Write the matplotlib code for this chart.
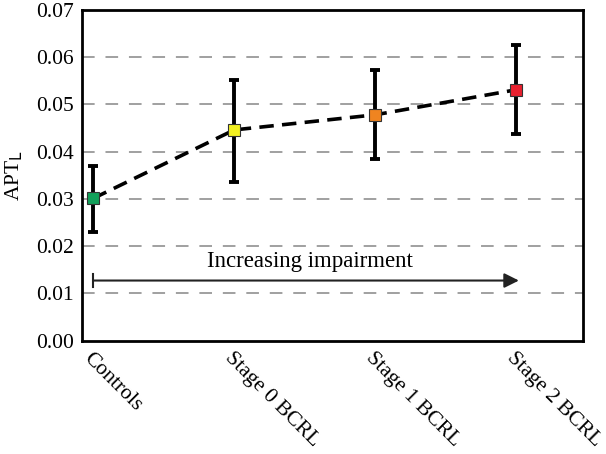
import matplotlib
matplotlib.use("Agg")
from matplotlib import pyplot as plt

# values
groups = ["Controls", "Stage 0 BCRL", "Stage 1 BCRL", "Stage 2 BCRL"]
apt_mean = [0.0301, 0.0446, 0.0478, 0.0531]
apt_upper = [0.0369, 0.0551, 0.0572, 0.0625]
apt_lower = [0.0230, 0.0336, 0.0384, 0.0437]
colors = ["#12a05a", "#f2f020", "#ef8420", "#e8202e"]

plt.rcParams["font.family"] = ["Liberation Serif", "DejaVu Serif"]

fig = plt.figure(figsize=(6.06, 4.54), dpi=100)
ax = fig.add_axes([82 / 606, 1 - 340.5 / 454, 501 / 606, 330.5 / 454])

x = list(range(len(groups)))
err_lo = [m - l for m, l in zip(apt_mean, apt_lower)]
err_hi = [u - m for m, u in zip(apt_mean, apt_upper)]

for yv in [0.01, 0.02, 0.03, 0.04, 0.05, 0.06]:
    ax.axhline(yv, color="#999999", lw=1.3, dashes=(7, 6), zorder=0)

ax.errorbar(x, apt_mean, yerr=[err_lo, err_hi], fmt="none", ecolor="black",
            elinewidth=2.8, capsize=3.5, capthick=2.8, zorder=2)
ax.plot(x, apt_mean, color="black", lw=2.6, dashes=(4, 2.3), zorder=3)
for xi, m, c in zip(x, apt_mean, colors):
    ax.plot(xi, m, marker="s", ms=8.5, mfc=c, mec="#333333", mew=0.8, zorder=4)

# impairment arrow
ax.annotate("", xy=(3.02, 0.0127), xytext=(0, 0.0127),
            arrowprops=dict(arrowstyle="-|>", color="#222222", lw=1.5,
                            mutation_scale=22, shrinkA=0, shrinkB=0))
ax.plot([0, 0], [0.0114, 0.0140], color="#222222", lw=1.5)
ax.text(1.54, 0.0146, "Increasing impairment", ha="center", va="bottom", fontsize=16.5)

ax.set_xlim(-0.08, 3.475)
ax.set_ylim(0, 0.07)
ax.set_yticks([0, 0.01, 0.02, 0.03, 0.04, 0.05, 0.06, 0.07])
ax.set_yticklabels(["0.00", "0.01", "0.02", "0.03", "0.04", "0.05", "0.06", "0.07"], fontsize=15.5)
ax.set_xticks(x)
ax.set_xticklabels(groups, rotation=-45, ha="left", va="top", fontsize=15.5,
                   rotation_mode="anchor")
ax.tick_params(length=0, pad=6)
ax.set_ylabel("APT$_\\mathrm{L}$", fontsize=15.5, labelpad=8)
for s in ax.spines.values():
    s.set_linewidth(2)

fig.savefig("out.png", dpi=100)
